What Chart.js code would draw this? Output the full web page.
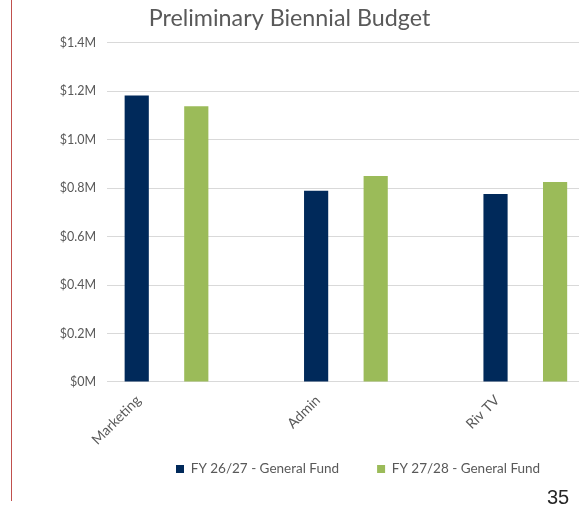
<!DOCTYPE html>
<html>
<head>
<meta charset="utf-8">
<script src="https://cdn.jsdelivr.net/npm/chart.js@4.4.1/dist/chart.umd.min.js"></script>
<style>
  html, body { margin: 0; padding: 0; background: #ffffff; overflow: hidden; }
  #wrap { position: relative; width: 579px; height: 509px; }
  #c { position: absolute; left: 0; top: 0; }
  #rule { position: absolute; left: 11px; top: 0; width: 1px; height: 501px; background: #C0504D; }
  #page { position: absolute; left: 547px; top: 487px; font: 20px/20px "Liberation Sans", Arial, sans-serif; color: #262626; }
</style>
</head>
<body>
<div id="wrap">
  <canvas id="c" width="579" height="509"></canvas>
  <div id="rule"></div>
  <div id="page">35</div>
</div>
<script>
// ---- data ----
const chartTitle = 'Preliminary Biennial Budget';
const categories = ['Marketing', 'Admin', 'Riv TV'];
const seriesNames = ['FY 26/27 - General Fund', 'FY 27/28 - General Fund'];
const fy2627 = [1183000, 790000, 776000];
const fy2728 = [1139000, 851000, 826000];
const yMin = 0;
const yMax = 1400000;
const yStep = 200000;

function moneyLabel(v) {
  if (v === 0) return '$0M';
  return '$' + (v / 1000000).toFixed(1) + 'M';
}

const FONT = 'Lato, "Open Sans", sans-serif';
const GREY = '#595959';

// place the legend row: first swatch at x=176, row centred at y=469
const legendPlace = {
  id: 'legendPlace',
  afterLayout(chart) {
    const lg = chart.legend;
    if (!lg || !lg.lineWidths) return;
    const pad = lg.options.labels.padding;
    const x1 = (lg.left + pad + lg.right - lg.lineWidths[0]) / 2;
    const dx = 176 - x1;
    lg.left += dx;
    lg.right += dx;
    const fs = lg.options.labels.font.size;
    const cy = lg.top + pad + Math.max(fs, lg.options.labels.boxHeight) / 2;
    const dy = 469 - cy;
    lg.top += dy;
    lg.bottom += dy;
  }
};

new Chart(document.getElementById('c'), {
  type: 'bar',
  data: {
    labels: categories,
    datasets: [
      { label: seriesNames[0], data: fy2627, backgroundColor: '#00295A', borderWidth: 0 },
      { label: seriesNames[1], data: fy2728, backgroundColor: '#9BBB59', borderWidth: 0 }
    ]
  },
  plugins: [legendPlace],
  options: {
    responsive: false,
    animation: false,
    devicePixelRatio: 1,
    categoryPercentage: 0.664,
    barPercentage: 0.406,
    layout: { padding: { left: 0, right: 0, top: 0, bottom: 0 } },
    plugins: {
      title: {
        display: true,
        text: chartTitle,
        color: GREY,
        font: { family: FONT, size: 23.3, weight: 'normal' },
        padding: { top: 4, bottom: 11 }
      },
      legend: {
        position: 'bottom',
        labels: {
          boxWidth: 8,
          boxHeight: 8,
          padding: 38,
          color: GREY,
          font: { family: FONT, size: 13.5 }
        }
      },
      tooltip: { enabled: false }
    },
    scales: {
      x: {
        type: 'category',
        grid: { display: false, drawTicks: false },
        border: { display: false },
        ticks: {
          color: GREY,
          font: { family: FONT, size: 14 },
          minRotation: 45,
          maxRotation: 45,
          labelOffset: -28,
          padding: 10
        },
        afterBuildTicks(scale) {
          scale._startValue = -0.3317;
          scale._valueRange = 2.631;
        },
        afterFit(scale) { scale.height = 65.5; }
      },
      y: {
        min: yMin,
        max: yMax,
        grid: { color: '#D9D9D9', lineWidth: 1, drawTicks: false },
        border: { display: false },
        ticks: {
          stepSize: yStep,
          color: GREY,
          font: { family: FONT, size: 12.5 },
          padding: 11,
          callback: (v) => moneyLabel(v)
        },
        afterFit(scale) { scale.width = 107; }
      }
    }
  }
});
</script>
</body>
</html>
